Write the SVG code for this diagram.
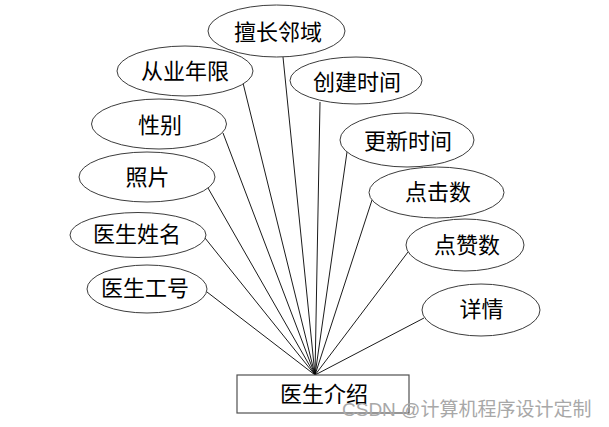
<svg xmlns="http://www.w3.org/2000/svg" width="609" height="427" viewBox="0 0 609 427">
<style>
.attr ellipse{fill:#ffffff;stroke:#3c3c3c;stroke-width:1}
.ent rect{fill:#ffffff;stroke:#505050;stroke-width:1.2}
text{font-family:"Noto Sans CJK SC","Noto Sans CJK JP",sans-serif;font-size:22px;fill:#000;text-anchor:middle}
.links line{stroke:#000;stroke-width:0.9}
.wm{font-family:"Liberation Sans","Noto Sans CJK SC",sans-serif;font-size:19px;fill:#a8a8a8;text-anchor:start}
</style>
<rect width="609" height="427" fill="#ffffff"/>
<g class="links">
<line x1="207" y1="292" x2="315" y2="375"/>
<line x1="205" y1="238" x2="315" y2="375"/>
<line x1="208" y1="188" x2="315" y2="375"/>
<line x1="223" y1="133" x2="315" y2="375"/>
<line x1="243" y1="83" x2="315" y2="375"/>
<line x1="283" y1="57" x2="315" y2="375"/>
<line x1="320" y1="102" x2="315" y2="375"/>
<line x1="347" y1="152" x2="315" y2="375"/>
<line x1="372" y1="200" x2="315" y2="375"/>
<line x1="408" y1="252" x2="315" y2="375"/>
<line x1="424" y1="318" x2="315" y2="375"/>
</g>
<g id="n-zhuanchang" class="attr"><ellipse cx="276.5" cy="31" rx="68.5" ry="26"/><text x="278" y="40">擅长邻域</text></g>
<g id="n-congye" class="attr"><ellipse cx="185" cy="71" rx="68" ry="25"/><text x="185" y="79">从业年限</text></g>
<g id="n-xingbie" class="attr"><ellipse cx="159" cy="124" rx="67.5" ry="25"/><text x="160" y="133">性别</text></g>
<g id="n-zhaopian" class="attr"><ellipse cx="147" cy="177" rx="68" ry="25"/><text x="147.5" y="185">照片</text></g>
<g id="n-xingming" class="attr"><ellipse cx="138" cy="235" rx="68" ry="22.5"/><text x="137" y="242">医生姓名</text></g>
<g id="n-gonghao" class="attr"><ellipse cx="147" cy="289" rx="60" ry="24"/><text x="145" y="296">医生工号</text></g>
<g id="n-chuangjian" class="attr"><ellipse cx="356" cy="80.5" rx="66" ry="23.5"/><text x="357" y="90">创建时间</text></g>
<g id="n-gengxin" class="attr"><ellipse cx="407" cy="140" rx="67" ry="27"/><text x="408" y="149">更新时间</text></g>
<g id="n-dianji" class="attr"><ellipse cx="436.5" cy="192.5" rx="67.5" ry="25.5"/><text x="438" y="200">点击数</text></g>
<g id="n-dianzan" class="attr"><ellipse cx="465" cy="245" rx="59" ry="26"/><text x="467" y="253">点赞数</text></g>
<g id="n-xiangqing" class="attr"><ellipse cx="481" cy="310" rx="59" ry="26"/><text x="481.5" y="317">详情</text></g>
<g id="n-yisheng" class="ent"><rect x="237" y="375" width="172" height="38"/><text x="324" y="402">医生介绍</text></g>
<text class="wm" x="342" y="416">CSDN @计算机程序设计定制</text>
</svg>
